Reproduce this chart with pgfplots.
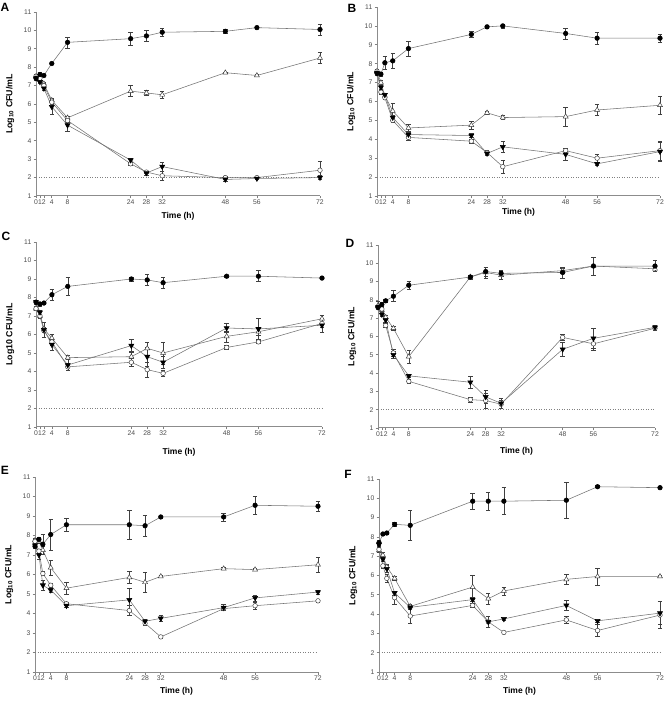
\documentclass[border=0pt]{standalone}
\usepackage{pgfplots}
\pgfplotsset{compat=1.18}
\usepackage{fontspec}
\setmainfont{Liberation Sans}
\begin{document}
\begin{tikzpicture}
\pgfplotsset{
  panel/.style={
    anchor=south west, scale only axis, axis lines*=left,
    xmin=0, xmax=72, ymin=1, ymax=11,
    xtick={0,1,2,4,8,24,28,32,48,56,72},
    ytick={1,2,...,11},
    tick align=outside, major tick length=2.5pt,
    axis line style={black!45, line width=1pt},
    tick style={black!50, line width=0.7pt},
    /pgf/number format/assume math mode=true,
    ticklabel style={font=\fontsize{6.8}{8}\selectfont, text=black!70},
    xticklabel style={inner sep=1pt},
    yticklabel style={inner sep=2pt},
    xlabel={Time (h)},
    xlabel style={font=\bfseries\fontsize{8.5}{10}\selectfont, at={(axis description cs:0.5,0)}, anchor=center},
    ylabel style={font=\bfseries\fontsize{8.8}{10}\selectfont, at={(axis description cs:0,0.5)}, anchor=center, yshift=26pt},
    ylabel={Log\textsubscript{10} CFU/mL},
    clip=false,
    every axis plot/.append style={line width=0.55pt, black!55,
      error bars/y dir=both, error bars/y explicit,
      error bars/error bar style={black!75, line width=0.55pt},
      error bars/error mark options={rotate=90, black!75, mark size=2.2pt, line width=0.55pt}},
  },
  ctrl/.style={mark=*, mark size=2.3pt, mark options={fill=black, draw=black}},
  tri/.style={mark=triangle*, mark size=2.9pt, mark options={fill=white, draw=black!80, line width=0.45pt}},
  inv/.style={mark=triangle*, mark size=2.9pt, mark options={rotate=180, fill=black, draw=black}},
  oc/.style={mark=*, mark size=2.3pt, mark options={fill=white, draw=black!80, line width=0.45pt}},
  lod/.style={black!50, dotted, line width=0.6pt, no markers, forget plot, error bars/y dir=none},
}
\path[use as bounding box] (0,0) rectangle (664pt,704pt);
% Panel letters
\node[font=\bfseries\fontsize{12}{14}\selectfont] at (5pt,697pt) {A};
\node[font=\bfseries\fontsize{12}{14}\selectfont] at (352pt,696pt) {B};
\node[font=\bfseries\fontsize{12}{14}\selectfont] at (6pt,468pt) {C};
\node[font=\bfseries\fontsize{12}{14}\selectfont] at (350pt,461pt) {D};
\node[font=\bfseries\fontsize{12}{14}\selectfont] at (5pt,234pt) {E};
\node[font=\bfseries\fontsize{12}{14}\selectfont] at (348pt,230pt) {F};

% ---------------- A ----------------
\begin{axis}[panel, at={(36pt,508pt)}, width=284pt, height=184pt, xlabel style={yshift=-20pt}]
\addplot[lod] coordinates {(0,2) (72,2)};
\addplot[tri] coordinates {(0,7.5)+-(0,0.1) (1,7.3)+-(0,0.1) (2,7.1)+-(0,0.1) (4,6.2)+-(0,0.1) (8,5.25)+-(0,0.1) (24,6.7)+-(0,0.3) (28,6.6)+-(0,0.12) (32,6.5)+-(0,0.2) (48,7.7)+-(0,0.05) (56,7.55)+-(0,0.05) (72,8.5)+-(0,0.3)};
\addplot[oc] coordinates {(0,7.5)+-(0,0.1) (1,7.4)+-(0,0.1) (2,7.0)+-(0,0.1) (4,6.1)+-(0,0.1) (8,5.1)+-(0,0.1) (24,2.75)+-(0,0.1) (28,2.3)+-(0,0.05) (32,2.1)+-(0,0.25) (48,2.0)+-(0,0.05) (56,2.0)+-(0,0.05) (72,2.4)+-(0,0.5)};
\addplot[inv] coordinates {(0,7.4)+-(0,0.1) (1,7.2)+-(0,0.1) (2,6.85)+-(0,0.1) (4,5.85)+-(0,0.4) (8,4.85)+-(0,0.35) (24,2.95)+-(0,0.1) (28,2.25)+-(0,0.1) (32,2.6)+-(0,0.25) (48,1.9)+-(0,0.1) (56,1.95)+-(0,0.05) (72,2.0)+-(0,0.1)};
\addplot[ctrl] coordinates {(0,7.4)+-(0,0.1) (1,7.6)+-(0,0.1) (2,7.55)+-(0,0.05) (4,8.2)+-(0,0.05) (8,9.35)+-(0,0.3) (24,9.55)+-(0,0.35) (28,9.7)+-(0,0.3) (32,9.9)+-(0,0.2) (48,9.95)+-(0,0.1) (56,10.15)+-(0,0.05) (72,10.05)+-(0,0.3)};
\end{axis}

% ---------------- B ----------------
\begin{axis}[panel, at={(377pt,508pt)}, width=283pt, height=189pt, xlabel style={yshift=-16pt}]
\addplot[lod] coordinates {(0,2) (72,2)};
\addplot[tri] coordinates {(0,7.6)+-(0,0.1) (1,7.0)+-(0,0.1) (2,6.3)+-(0,0.15) (4,5.5)+-(0,0.4) (8,4.6)+-(0,0.2) (24,4.75)+-(0,0.2) (28,5.4)+-(0,0.1) (32,5.15)+-(0,0.1) (48,5.2)+-(0,0.5) (56,5.55)+-(0,0.3) (72,5.8)+-(0,0.5)};
\addplot[oc] coordinates {(0,7.6)+-(0,0.1) (1,6.5)+-(0,0.1) (2,6.2)+-(0,0.1) (4,5.0)+-(0,0.1) (8,4.1)+-(0,0.15) (24,3.9)+-(0,0.1) (28,3.3)+-(0,0.1) (32,2.55)+-(0,0.35) (48,3.4)+-(0,0.15) (56,3.0)+-(0,0.2) (72,3.4)+-(0,0.5)};
\addplot[inv] coordinates {(0,7.5)+-(0,0.1) (1,6.75)+-(0,0.1) (2,6.35)+-(0,0.1) (4,5.15)+-(0,0.1) (8,4.25)+-(0,0.1) (24,4.2)+-(0,0.1) (28,3.25)+-(0,0.1) (32,3.6)+-(0,0.3) (48,3.2)+-(0,0.3) (56,2.7)+-(0,0.1) (72,3.35)+-(0,0.5)};
\addplot[ctrl] coordinates {(0,7.5)+-(0,0.1) (1,7.45)+-(0,0.1) (2,8.05)+-(0,0.35) (4,8.15)+-(0,0.4) (8,8.8)+-(0,0.4) (24,9.55)+-(0,0.15) (28,9.95)+-(0,0.1) (32,10.0)+-(0,0.1) (48,9.6)+-(0,0.3) (56,9.35)+-(0,0.3) (72,9.35)+-(0,0.2)};
\end{axis}

% ---------------- C ----------------
\begin{axis}[panel, at={(36pt,277pt)}, width=286pt, height=185pt, ylabel={Log10 CFU/mL}, xlabel style={yshift=-25pt}]
\addplot[lod] coordinates {(0,2) (72,2)};
\addplot[tri] coordinates {(0,7.4)+-(0,0.1) (1,7.0)+-(0,0.1) (2,6.3)+-(0,0.1) (4,5.8)+-(0,0.2) (8,4.75)+-(0,0.1) (24,4.8)+-(0,0.3) (28,5.25)+-(0,0.35) (32,5.0)+-(0,0.6) (48,5.9)+-(0,0.3) (56,6.15)+-(0,0.2) (72,6.85)+-(0,0.2)};
\addplot[oc] coordinates {(0,7.4)+-(0,0.1) (1,7.0)+-(0,0.1) (2,6.2)+-(0,0.1) (4,5.6)+-(0,0.2) (8,4.25)+-(0,0.2) (24,4.5)+-(0,0.2) (28,4.1)+-(0,0.4) (32,3.9)+-(0,0.15) (48,5.3)+-(0,0.1) (56,5.6)+-(0,0.1) (72,6.6)+-(0,0.2)};
\addplot[inv] coordinates {(0,7.75)+-(0,0.1) (1,7.2)+-(0,0.1) (2,6.25)+-(0,0.4) (4,5.45)+-(0,0.3) (8,4.35)+-(0,0.3) (24,5.4)+-(0,0.35) (28,4.8)+-(0,0.5) (32,4.5)+-(0,0.3) (48,6.35)+-(0,0.25) (56,6.3)+-(0,0.55) (72,6.5)+-(0,0.4)};
\addplot[ctrl] coordinates {(0,7.75)+-(0,0.1) (1,7.65)+-(0,0.1) (2,7.7)+-(0,0.05) (4,8.15)+-(0,0.3) (8,8.6)+-(0,0.5) (24,9.0)+-(0,0.1) (28,8.95)+-(0,0.3) (32,8.8)+-(0,0.3) (48,9.15)+-(0,0.05) (56,9.15)+-(0,0.3) (72,9.05)+-(0,0.05)};
\end{axis}

% ---------------- D ----------------
\begin{axis}[panel, at={(378pt,276pt)}, width=277pt, height=183pt, xlabel style={yshift=-23pt}]
\addplot[lod] coordinates {(0,2) (72,2)};
\addplot[tri] coordinates {(0,7.7)+-(0,0.2) (1,7.45)+-(0,0.1) (2,7.05)+-(0,0.1) (4,6.45)+-(0,0.1) (8,4.9)+-(0,0.35) (24,9.25)+-(0,0.1) (28,9.5)+-(0,0.3) (32,9.35)+-(0,0.25) (48,9.6)+-(0,0.15) (56,9.85)+-(0,0.5) (72,9.7)+-(0,0.15)};
\addplot[oc] coordinates {(0,7.6)+-(0,0.1) (1,7.5)+-(0,0.1) (2,6.6)+-(0,0.1) (4,5.1)+-(0,0.2) (8,3.55)+-(0,0.1) (24,2.55)+-(0,0.15) (28,2.5)+-(0,0.4) (32,2.3)+-(0,0.2) (48,5.95)+-(0,0.15) (56,5.6)+-(0,0.35) (72,6.45)+-(0,0.1)};
\addplot[inv] coordinates {(0,7.6)+-(0,0.1) (1,7.2)+-(0,0.1) (2,6.9)+-(0,0.1) (4,5.0)+-(0,0.2) (8,3.85)+-(0,0.1) (24,3.5)+-(0,0.35) (28,2.7)+-(0,0.35) (32,2.35)+-(0,0.25) (48,5.3)+-(0,0.4) (56,5.9)+-(0,0.55) (72,6.5)+-(0,0.1)};
\addplot[ctrl] coordinates {(0,7.6)+-(0,0.1) (1,7.75)+-(0,0.1) (2,7.95)+-(0,0.1) (4,8.2)+-(0,0.3) (8,8.8)+-(0,0.2) (24,9.25)+-(0,0.1) (28,9.55)+-(0,0.25) (32,9.45)+-(0,0.1) (48,9.5)+-(0,0.3) (56,9.85)+-(0,0.5) (72,9.85)+-(0,0.3)};
\end{axis}

% ---------------- E ----------------
\begin{axis}[panel, at={(35pt,32pt)}, width=283pt, height=195pt, xlabel style={yshift=-19pt}]
\addplot[lod] coordinates {(0,2) (72,2)};
\addplot[tri] coordinates {(0,7.75)+-(0,0.1) (1,7.7)+-(0,0.1) (2,7.25)+-(0,0.2) (4,6.35)+-(0,0.4) (8,5.3)+-(0,0.3) (24,5.85)+-(0,0.3) (28,5.6)+-(0,0.5) (32,5.9)+-(0,0.05) (48,6.3)+-(0,0.05) (56,6.25)+-(0,0.05) (72,6.5)+-(0,0.4)};
\addplot[oc] coordinates {(0,7.7)+-(0,0.1) (1,7.2)+-(0,0.1) (2,6.05)+-(0,0.1) (4,5.45)+-(0,0.1) (8,4.5)+-(0,0.1) (24,4.15)+-(0,0.25) (28,3.5)+-(0,0.1) (32,2.8)+-(0,0.05) (48,4.25)+-(0,0.1) (56,4.4)+-(0,0.2) (72,4.65)+-(0,0.05)};
\addplot[inv] coordinates {(0,7.5)+-(0,0.1) (1,7.0)+-(0,0.2) (2,5.45)+-(0,0.25) (4,5.2)+-(0,0.1) (8,4.4)+-(0,0.1) (24,4.7)+-(0,0.6) (28,3.6)+-(0,0.1) (32,3.75)+-(0,0.15) (48,4.3)+-(0,0.15) (56,4.8)+-(0,0.15) (72,5.1)+-(0,0.1)};
\addplot[ctrl] coordinates {(0,7.45)+-(0,0.1) (1,7.8)+-(0,0.1) (2,7.55)+-(0,0.5) (4,8.05)+-(0,0.8) (8,8.55)+-(0,0.35) (24,8.55)+-(0,0.75) (28,8.5)+-(0,0.55) (32,8.95)+-(0,0.05) (48,8.95)+-(0,0.2) (56,9.55)+-(0,0.45) (72,9.5)+-(0,0.25)};
\end{axis}

% ---------------- F ----------------
\begin{axis}[panel, at={(379pt,32pt)}, width=281pt, height=193pt, xlabel style={yshift=-19pt}]
\addplot[lod] coordinates {(0,2) (72,2)};
\addplot[tri] coordinates {(0,7.3)+-(0,0.1) (1,7.05)+-(0,0.15) (2,6.45)+-(0,0.15) (4,5.85)+-(0,0.1) (8,4.4)+-(0,0.1) (24,5.4)+-(0,0.6) (28,4.8)+-(0,0.3) (32,5.2)+-(0,0.2) (48,5.8)+-(0,0.25) (56,5.95)+-(0,0.45) (72,5.95)+-(0,0.05)};
\addplot[oc] coordinates {(0,7.35)+-(0,0.1) (1,6.5)+-(0,0.1) (2,5.85)+-(0,0.2) (4,4.85)+-(0,0.35) (8,3.9)+-(0,0.4) (24,4.45)+-(0,0.1) (28,3.6)+-(0,0.3) (32,3.05)+-(0,0.05) (48,3.7)+-(0,0.2) (56,3.15)+-(0,0.3) (72,3.95)+-(0,0.7)};
\addplot[inv] coordinates {(0,7.6)+-(0,0.1) (1,6.85)+-(0,0.1) (2,6.35)+-(0,0.2) (4,5.1)+-(0,0.1) (8,4.35)+-(0,0.1) (24,4.75)+-(0,0.1) (28,3.6)+-(0,0.3) (32,3.75)+-(0,0.05) (48,4.45)+-(0,0.25) (56,3.65)+-(0,0.05) (72,4.05)+-(0,0.6)};
\addplot[ctrl] coordinates {(0,7.7)+-(0,0.15) (1,8.15)+-(0,0.05) (2,8.2)+-(0,0.05) (4,8.65)+-(0,0.1) (8,8.6)+-(0,0.8) (24,9.85)+-(0,0.4) (28,9.85)+-(0,0.45) (32,9.85)+-(0,0.7) (48,9.9)+-(0,0.95) (56,10.6)+-(0,0.05) (72,10.55)+-(0,0.05)};
\end{axis}
\end{tikzpicture}
\end{document}
